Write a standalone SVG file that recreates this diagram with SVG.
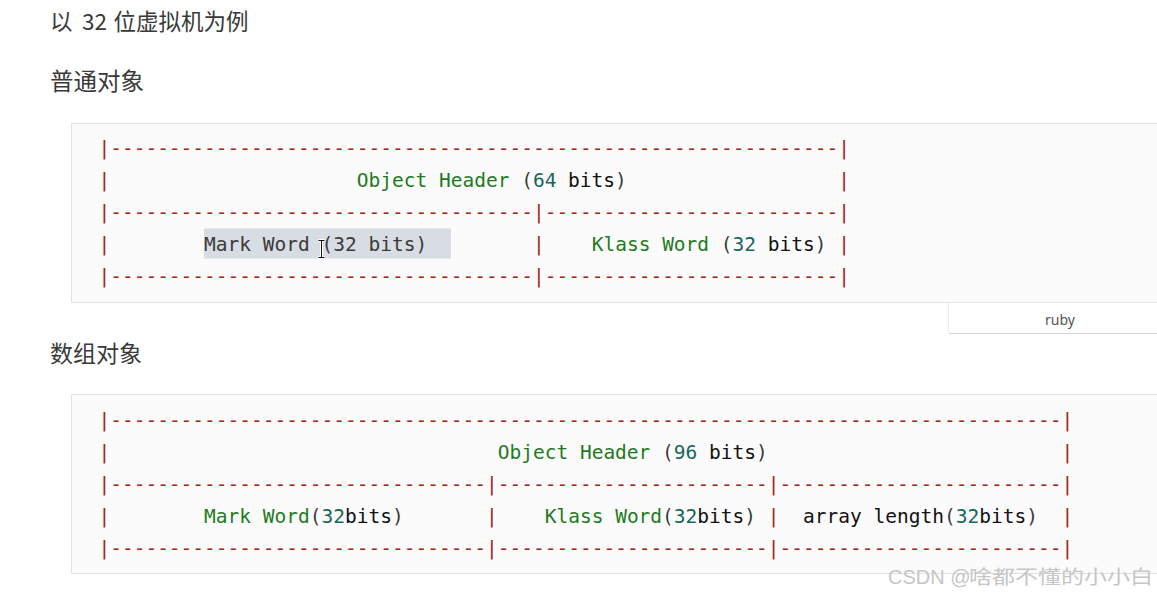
<svg xmlns="http://www.w3.org/2000/svg" width="1157" height="596" viewBox="0 0 1157 596">
<style>
.h{font-family:"Noto Sans CJK SC","Noto Sans",sans-serif;fill:#3a3a3a}
.m{font-family:"DejaVu Sans Mono","Liberation Mono",monospace;font-size:19.5px}
.d{fill:#a3261b}
.g{fill:#1f7a1f}
.n{fill:#16675a}
.k{fill:#111111}
.p{fill:#3c3c3c}
.s{fill:#3a3a3a}
.box{fill:#fbfbfb;stroke:#e2e2e2;stroke-width:1}
</style>
<rect width="1157" height="596" fill="#ffffff"/>

<g id="heading-intro">
<text class="h" x="50" y="30" font-size="22.5">以</text>
<text class="h" x="82" y="30" font-size="22.5">32</text>
<text class="h" x="113.5" y="30" font-size="22.5">位虚拟机为例</text>
</g>
<g id="heading-plain">
<text class="h" x="50" y="90" font-size="23.5">普通对象</text>
</g>

<g id="block-plain">
<rect class="box" x="71.5" y="123.5" width="1100" height="179"/>
<rect x="204" y="228.5" width="247" height="30" fill="#d8dde4"/>
<g class="m">
<text class="d" x="98.4" y="154.5">|</text>
<text class="d" x="110.15" y="154.5" textLength="728.19" lengthAdjust="spacing">--------------------------------------------------------------</text>
<text class="d" x="838.34" y="154.5">|</text>

<text class="d" x="98.4" y="186.5">|</text>
<text x="356.79" y="186.5"><tspan class="g">Object Header</tspan><tspan class="p"> (</tspan><tspan class="n">64</tspan><tspan class="k"> bits</tspan><tspan class="p">)</tspan></text>
<text class="d" x="838.34" y="186.5">|</text>

<text class="d" x="98.4" y="218.5">|</text>
<text class="d" x="110.15" y="218.5" textLength="422.82" lengthAdjust="spacing">------------------------------------</text>
<text class="d" x="532.97" y="218.5">|</text>
<text class="d" x="544.71" y="218.5" textLength="293.63" lengthAdjust="spacing">-------------------------</text>
<text class="d" x="838.34" y="218.5">|</text>

<text class="d" x="98.4" y="250.5">|</text>
<text class="s" x="204.11" y="250.5">Mark Word (32 bits)</text>
<text class="d" x="532.97" y="250.5">|</text>
<text x="591.69" y="250.5"><tspan class="g">Klass Word</tspan><tspan class="p"> (</tspan><tspan class="n">32</tspan><tspan class="k"> bits</tspan><tspan class="p">)</tspan></text>
<text class="d" x="838.34" y="250.5">|</text>

<text class="d" x="98.4" y="282.5">|</text>
<text class="d" x="110.15" y="282.5" textLength="422.82" lengthAdjust="spacing">------------------------------------</text>
<text class="d" x="532.97" y="282.5">|</text>
<text class="d" x="544.71" y="282.5" textLength="293.63" lengthAdjust="spacing">-------------------------</text>
<text class="d" x="838.34" y="282.5">|</text>
</g>
<g id="cursor" fill="none">
<path d="M318.5,240.5 h6 M321.5,240.5 v17 M318.5,257.5 h6" stroke="#ffffff" stroke-width="3"/>
<path d="M318.5,240.5 h6 M321.5,240.5 v17 M318.5,257.5 h6" stroke="#111111" stroke-width="1"/>
</g>
</g>

<g id="lang-tag">
<rect x="948.5" y="302.5" width="220" height="31" rx="2" fill="#ffffff" stroke="#ececec"/>
<line x1="949" y1="333.5" x2="1157" y2="333.5" stroke="#d6d6d6"/>
<text x="1060" y="325" font-family="'Noto Sans','Liberation Sans',sans-serif" font-size="14" fill="#555555" text-anchor="middle">ruby</text>
</g>

<g id="heading-array">
<text class="h" x="50" y="362" font-size="23">数组对象</text>
</g>

<g id="block-array">
<rect class="box" x="71.5" y="394.5" width="1100" height="179"/>
<g class="m">
<text class="d" x="98.4" y="426.5">|</text>
<text class="d" x="110.15" y="426.5" textLength="951.35" lengthAdjust="spacing">---------------------------------------------------------------------------------</text>
<text class="d" x="1061.49" y="426.5">|</text>

<text class="d" x="98.4" y="458.5">|</text>
<text x="497.73" y="458.5"><tspan class="g">Object Header</tspan><tspan class="p"> (</tspan><tspan class="n">96</tspan><tspan class="k"> bits</tspan><tspan class="p">)</tspan></text>
<text class="d" x="1061.49" y="458.5">|</text>

<text class="d" x="98.4" y="490.5">|</text>
<text class="d" x="110.15" y="490.5" textLength="375.84" lengthAdjust="spacing">--------------------------------</text>
<text class="d" x="485.99" y="490.5">|</text>
<text class="d" x="497.73" y="490.5" textLength="270.14" lengthAdjust="spacing">-----------------------</text>
<text class="d" x="767.87" y="490.5">|</text>
<text class="d" x="779.62" y="490.5" textLength="281.88" lengthAdjust="spacing">------------------------</text>
<text class="d" x="1061.49" y="490.5">|</text>

<text class="d" x="98.4" y="522.5">|</text>
<text x="204.11" y="522.5"><tspan class="g">Mark Word</tspan><tspan class="p">(</tspan><tspan class="n">32</tspan><tspan class="k">bits</tspan><tspan class="p">)</tspan></text>
<text class="d" x="485.99" y="522.5">|</text>
<text x="544.71" y="522.5"><tspan class="g">Klass Word</tspan><tspan class="p">(</tspan><tspan class="n">32</tspan><tspan class="k">bits</tspan><tspan class="p">)</tspan></text>
<text class="d" x="767.87" y="522.5">|</text>
<text x="803.10" y="522.5"><tspan class="k">array length</tspan><tspan class="p">(</tspan><tspan class="n">32</tspan><tspan class="k">bits</tspan><tspan class="p">)</tspan></text>
<text class="d" x="1061.49" y="522.5">|</text>

<text class="d" x="98.4" y="554.5">|</text>
<text class="d" x="110.15" y="554.5" textLength="375.84" lengthAdjust="spacing">--------------------------------</text>
<text class="d" x="485.99" y="554.5">|</text>
<text class="d" x="497.73" y="554.5" textLength="270.14" lengthAdjust="spacing">-----------------------</text>
<text class="d" x="767.87" y="554.5">|</text>
<text class="d" x="779.62" y="554.5" textLength="281.88" lengthAdjust="spacing">------------------------</text>
<text class="d" x="1061.49" y="554.5">|</text>
</g>
</g>

<g id="watermark" fill="#c6c6c6">
<text x="888" y="584" font-family="'Liberation Sans',sans-serif" font-size="20">CSDN @</text>
<text x="969" y="584" font-family="'Noto Sans CJK SC',sans-serif" font-size="19" textLength="184" lengthAdjust="spacingAndGlyphs">啥都不懂的小小白</text>
</g>
</svg>
